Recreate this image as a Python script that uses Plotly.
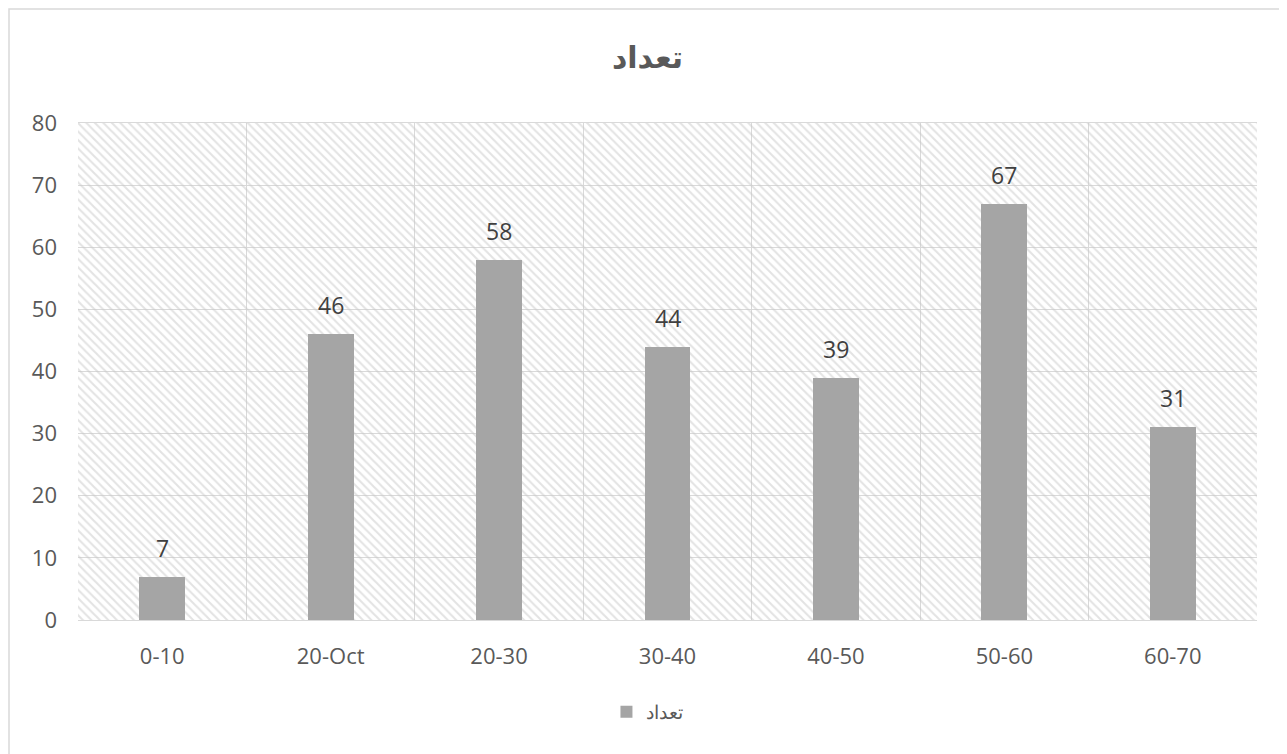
import plotly.graph_objects as go

categories = ["0-10", "20-Oct", "20-30", "30-40", "40-50", "50-60", "60-70"]
values = [7, 46, 58, 44, 39, 67, 31]
series_name = "تعداد"
title_text = "تعداد"
y_max = 80
y_ticks = [0, 10, 20, 30, 40, 50, 60, 70, 80]

W, H = 1279, 746
L, R, T, B = 70, 30, 115, 134

fig = go.Figure()

# hatched plot-area background (style only)
fig.add_trace(go.Bar(
    x=[categories[len(categories) // 2]], y=[y_max], width=[len(categories)],
    marker=dict(color="rgba(0,0,0,0)", line=dict(width=0),
                pattern=dict(shape="\\", fgcolor="#c8c8c8", bgcolor="rgba(0,0,0,0)",
                             size=6, solidity=0.35, fillmode="overlay")),
    showlegend=False, hoverinfo="skip",
))

fig.add_trace(go.Bar(
    x=categories, y=values, name=series_name, width=0.273,
    marker=dict(color="#a5a5a5", line=dict(width=0)),
    hoverinfo="x+y",
))

annotations = [
    dict(x=c, y=v, xref="x", yref="y", text=str(v), showarrow=False,
         yanchor="middle", xanchor="center", yshift=29,
         font=dict(size=23, color="#404040", family="Open Sans"))
    for c, v in zip(categories, values)
]

plot_w = W - L - R
plot_h = H - T - B

fig.update_layout(
    width=W, height=H,
    margin=dict(l=L, r=R, t=T, b=B),
    paper_bgcolor="white", plot_bgcolor="white",
    barmode="overlay",
    title=dict(text="<b>" + title_text + "</b>", x=0.5, xanchor="center",
               y=0.934, yanchor="middle", yref="container",
               font=dict(size=30, color="#595959", family="DejaVu Sans")),
    font=dict(family="Open Sans", color="#595959", size=20),
    showlegend=True,
    legend=dict(orientation="h", x=0.483, xanchor="center", y=-0.185, yanchor="middle",
                font=dict(size=19, color="#595959"), itemwidth=30),
    xaxis=dict(type="category", categoryorder="array", categoryarray=categories,
               range=[-0.5, len(categories) - 0.5],
               showgrid=True, gridcolor="#d9d9d9", tickson="boundaries", ticks="",
               showline=True, linecolor="#d9d9d9", mirror=True,
               tickfont=dict(size=22, color="#595959"), ticklabelstandoff=17),
    yaxis=dict(range=[0, y_max], tickvals=y_ticks, showgrid=True, gridcolor="#d9d9d9",
               zeroline=False, showline=False, ticks="",
               tickfont=dict(size=22, color="#595959"), ticklabelstandoff=20),
    annotations=annotations,
    shapes=[dict(type="rect", xref="paper", yref="paper",
                 x0=(1 - L) / plot_w, x1=1.5, y0=-0.5, y1=1 + (T - 1) / plot_h,
                 line=dict(color="#d9d9d9", width=1.5), fillcolor="rgba(0,0,0,0)", layer="below")],
    bargap=0,
)

fig.write_html("out.html")
